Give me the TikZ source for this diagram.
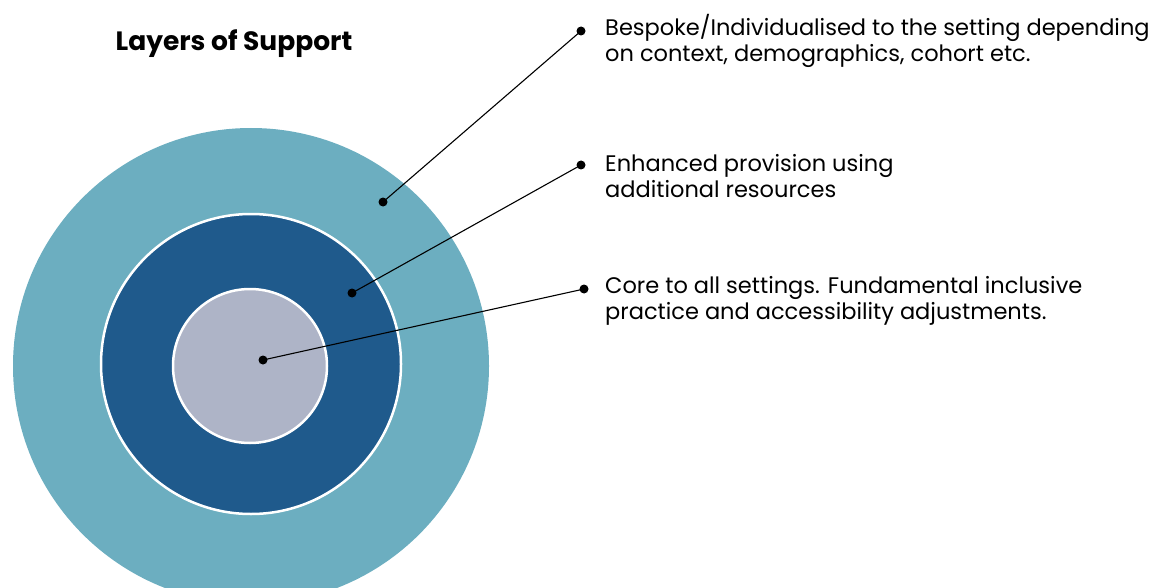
\documentclass[tikz,border=0pt]{standalone}
\usepackage{fontspec}
\setmainfont{Poppins}
\usepackage{xcolor}
\usetikzlibrary{positioning}
\definecolor{vongngoai}{HTML}{6CAEC0}
\definecolor{vonggiua}{HTML}{1F5A8C}
\definecolor{vongtrong}{HTML}{AEB4C7}

\begin{document}
\begin{tikzpicture}[x=1pt,y=-1pt,
	cham/.style={circle,fill=black,inner sep=0pt,minimum size=9pt},
	nhan/.style={anchor=west,align=left,inner sep=0pt,font=\fontsize{22.5}{26.5}\selectfont},
	noi/.style={line width=1.1pt}]
			\useasboundingbox (0,0) rectangle (1158,588);
			\clip (0,0) rectangle (1158,588);
			% Vẽ các vòng tròn
			\fill [vongngoai] (251,366) circle [radius=238pt];
			\draw [white,line width=2.5pt,fill=vonggiua] (251,364) circle [radius=150pt];
			\draw [white,line width=2.5pt,fill=vongtrong] (250,366) circle [radius=77pt];
			% Tiêu đề
			\node [font=\fontsize{26.5}{30}\selectfont\bfseries] (tieude) at (234,44) {Layers of Support};
			% Các chấm
			\node [cham] (a1) at (383,202) {};
			\node [cham] (b1) at (352,293) {};
			\node [cham] (c1) at (263,360) {};
			\node [cham] (a2) at (581,31) {};
			\node [cham] (b2) at (581,165) {};
			\node [cham] (c2) at (584,289) {};
			% Chú thích
			\node [nhan] (ta) at (605,41) {Bespoke/Individualised to the setting depending\\on context, demographics, cohort etc.};
			\node [nhan] (tb) at (605,176) {Enhanced provision using\\additional resources};
			\node [nhan] (tc) at (605,301) {Core to all settings. Fundamental inclusive\\practice and accessibility adjustments.};
			% Đường nối
			\draw [noi] (a1.center) -- (a2.center);
			\draw [noi] (b1.center) -- (b2.center);
			\draw [noi] (c1.center) -- (c2.center);
		\end{tikzpicture}
\end{document}
